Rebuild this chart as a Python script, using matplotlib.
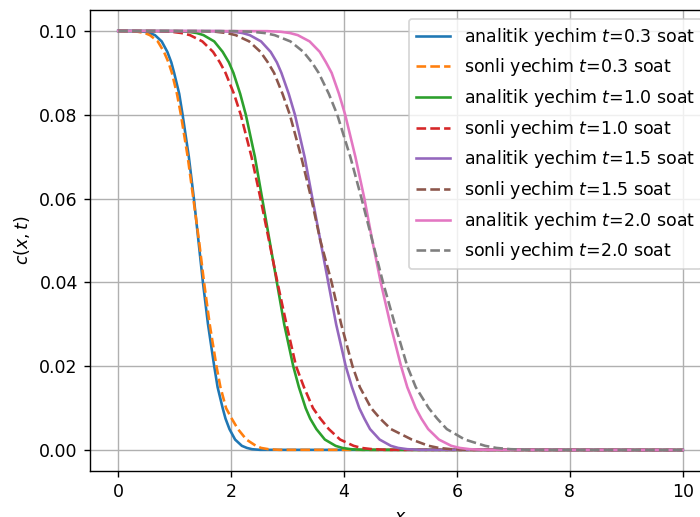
import matplotlib
matplotlib.use("Agg")
import matplotlib.pyplot as plt

# concentration levels (shared) and x positions for each curve
c_levels = [0.1, 0.09995, 0.0998, 0.0995, 0.099, 0.0975, 0.095, 0.0925, 0.09, 0.085, 0.08,
            0.07, 0.06, 0.05, 0.04, 0.03, 0.02, 0.015, 0.01, 0.0075, 0.005, 0.0025, 0.001,
            0.0005, 0.0002, 0.00005, 0.0]

x_an_03 = [0, 0.33, 0.47, 0.56, 0.65, 0.77, 0.87, 0.94, 0.99, 1.08, 1.14, 1.25, 1.34, 1.42,
           1.50, 1.59, 1.70, 1.76, 1.85, 1.90, 1.97, 2.07, 2.19, 2.28, 2.37, 2.51, 10]
x_num_03 = [0, 0.19, 0.35, 0.47, 0.56, 0.70, 0.81, 0.89, 0.95, 1.04, 1.11, 1.23, 1.33, 1.43,
            1.52, 1.62, 1.74, 1.81, 1.91, 2.01, 2.12, 2.27, 2.44, 2.53, 2.66, 2.85, 10]
x_an_10 = [0, 1.03, 1.24, 1.39, 1.51, 1.70, 1.85, 1.96, 2.04, 2.16, 2.26, 2.42, 2.55, 2.68,
           2.81, 2.94, 3.10, 3.20, 3.32, 3.40, 3.51, 3.66, 3.85, 3.97, 4.12, 4.33, 10]
x_num_10 = [0, 0.69, 0.94, 1.12, 1.27, 1.49, 1.68, 1.80, 1.90, 2.05, 2.17, 2.36, 2.52, 2.67,
            2.82, 2.98, 3.15, 3.29, 3.45, 3.58, 3.73, 3.93, 4.17, 4.31, 4.50, 4.75, 10]
x_an_15 = [0, 1.81, 2.04, 2.20, 2.33, 2.53, 2.70, 2.81, 2.89, 3.02, 3.13, 3.30, 3.44, 3.58,
           3.72, 3.86, 4.03, 4.14, 4.27, 4.36, 4.46, 4.63, 4.83, 4.96, 5.12, 5.35, 10]
x_num_15 = [0, 1.46, 1.73, 1.92, 2.08, 2.32, 2.52, 2.65, 2.76, 2.91, 3.04, 3.24, 3.42, 3.58,
            3.78, 3.95, 4.15, 4.28, 4.48, 4.64, 4.83, 5.20, 5.50, 5.68, 5.90, 6.20, 10]
x_an_20 = [0, 2.64, 2.88, 3.04, 3.18, 3.39, 3.57, 3.68, 3.78, 3.91, 4.02, 4.20, 4.36, 4.50,
           4.65, 4.82, 5.01, 5.12, 5.27, 5.37, 5.49, 5.68, 5.90, 6.05, 6.23, 6.48, 10]
x_num_20 = [0, 2.05, 2.37, 2.59, 2.77, 3.05, 3.28, 3.43, 3.55, 3.73, 3.88, 4.11, 4.31, 4.50,
            4.69, 4.90, 5.12, 5.27, 5.50, 5.65, 5.82, 6.14, 6.50, 6.70, 6.95, 7.30, 10]

times = ["0.3", "1.0", "1.5", "2.0"]
analytic = [x_an_03, x_an_10, x_an_15, x_an_20]
numeric = [x_num_03, x_num_10, x_num_15, x_num_20]


def main():
    # original looks like a default figure shown at 125% and cropped
    fig = plt.figure(figsize=(5.6, 4.136), dpi=125)
    # axes runs past the right edge, as in the cropped original
    ax = fig.add_axes([0.1286, 0.089, 0.8871, 0.8917])

    for t, xa, xn in zip(times, analytic, numeric):
        ax.plot(xa, c_levels, linestyle='-', label='analitik yechim $t$=' + t + ' soat')
        ax.plot(xn, c_levels, linestyle='--', label='sonli yechim $t$=' + t + ' soat')

    ax.set_xlabel('$x$')
    ax.set_ylabel('$c(x,t)$')
    ax.grid(True)
    ax.legend(loc='upper right')

    fig.savefig('out.png', dpi=125)


main()
